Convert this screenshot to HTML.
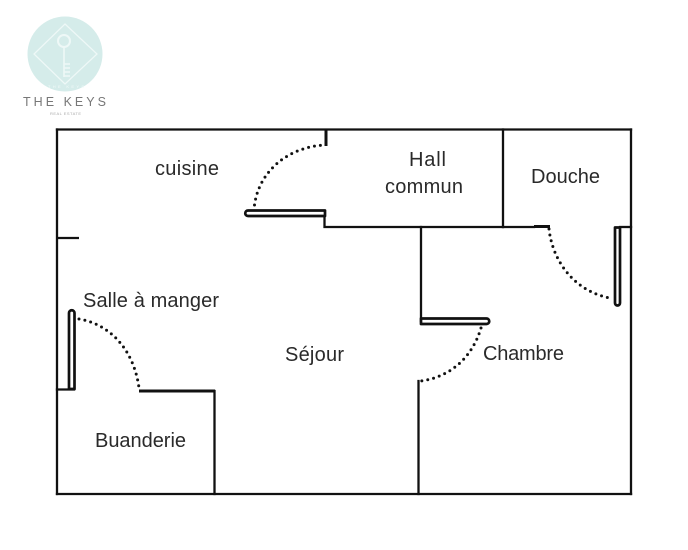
<!DOCTYPE html>
<html lang="fr">
<head>
<meta charset="utf-8">
<title>Plan</title>
<style>
html,body{margin:0;padding:0;background:#fff;width:688px;height:550px;overflow:hidden}
svg{display:block}
text{font-family:"Liberation Sans",sans-serif;font-size:20px;fill:#2a2a2a}
</style>
</head>
<body>
<svg width="688" height="550" viewBox="0 0 688 550" xmlns="http://www.w3.org/2000/svg">
  <!-- Logo -->
  <circle cx="65" cy="54" r="37.500" fill="#d5ecea"/>
  <g fill="none" stroke="#eef8f7" stroke-width="1.300">
    <path d="M65 24 L97 54 L65 84 L34 54 Z"/>
    <circle cx="64" cy="41" r="6" stroke-width="2"/>
    <path d="M64 47 V77 M64 64 H70 M64 68 H70 M64 72 H70 M64 76 H70" stroke-width="1.600"/>
  </g>
  <text x="48" y="88" textLength="36" lengthAdjust="spacing" style="font-size:4px;fill:#f2faf9">THE KEYS</text>
  <text x="23" y="106" textLength="83" lengthAdjust="spacing" style="font-size:12.500px;fill:#777">THE KEYS</text>
  <text x="50" y="115" textLength="31" lengthAdjust="spacing" style="font-size:4px;fill:#aaa">REAL ESTATE</text>

  <!-- Walls -->
  <g fill="none" stroke="#111" stroke-width="2.300" stroke-linecap="square">
    <path d="M57 129.500 H631"/>
    <path d="M57 129.500 V494"/>
    <path d="M57 494 H631"/>
    <path d="M631 129.500 V494"/>
    <path d="M503 129.500 V227"/>
    <path d="M324.500 211 V227 H503"/>
    <path d="M503 227 H534"/>
    <path d="M421 227 V321"/>
    <path d="M214.500 391 V494"/>
    <path d="M57 389.500 H74"/>
    <path d="M620 227 H631"/>
    <path d="M418.500 381 V494"/>
  </g>
  <g fill="none" stroke="#111" stroke-width="3" stroke-linecap="butt">
    <path d="M326 129 V146"/>
    <path d="M139 391 H215"/>
    <path d="M534 226.500 H550"/>
    <path d="M58 238 H79" stroke-width="2.200"/>
  </g>

  <!-- Door leaves -->
  <g fill="#fff" stroke="#111" stroke-width="2.700" stroke-linejoin="round">
    <path d="M325 210.500 H248 A2.700 2.700 0 0 0 248 216 H325 Z"/>
    <path d="M421 318.500 H486.500 A2.700 2.700 0 0 1 486.500 324 H421 Z"/>
    <path d="M615 227.500 H620 V303 A2.500 2.500 0 0 1 615 303 Z"/>
    <path d="M69 389 V313 A2.700 2.700 0 0 1 74.500 313 V389 Z"/>
  </g>

  <!-- Door swings -->
  <g fill="none" stroke="#111" stroke-width="3" stroke-linecap="round" stroke-dasharray="0 6">
    <path d="M254.500 205 C259 172 287 147 325 145"/>
    <path d="M549 229 C553 264 577 292 610 298"/>
    <path d="M79 319 C110 324 134 350 139 388"/>
    <path d="M481 328 C472 358 450 377 421 381"/>
  </g>

  <!-- Labels -->
  <text x="155" y="175" textLength="64" lengthAdjust="spacing">cuisine</text>
  <text x="409" y="166" textLength="37" lengthAdjust="spacing">Hall</text>
  <text x="385" y="193" textLength="78" lengthAdjust="spacing">commun</text>
  <text x="531" y="183" textLength="69" lengthAdjust="spacing">Douche</text>
  <text x="83" y="307" textLength="136" lengthAdjust="spacing">Salle à manger</text>
  <text x="285" y="361" textLength="59" lengthAdjust="spacing">Séjour</text>
  <text x="483" y="360" textLength="81" lengthAdjust="spacing">Chambre</text>
  <text x="95" y="447" textLength="91" lengthAdjust="spacing">Buanderie</text>
</svg>
</body>
</html>
